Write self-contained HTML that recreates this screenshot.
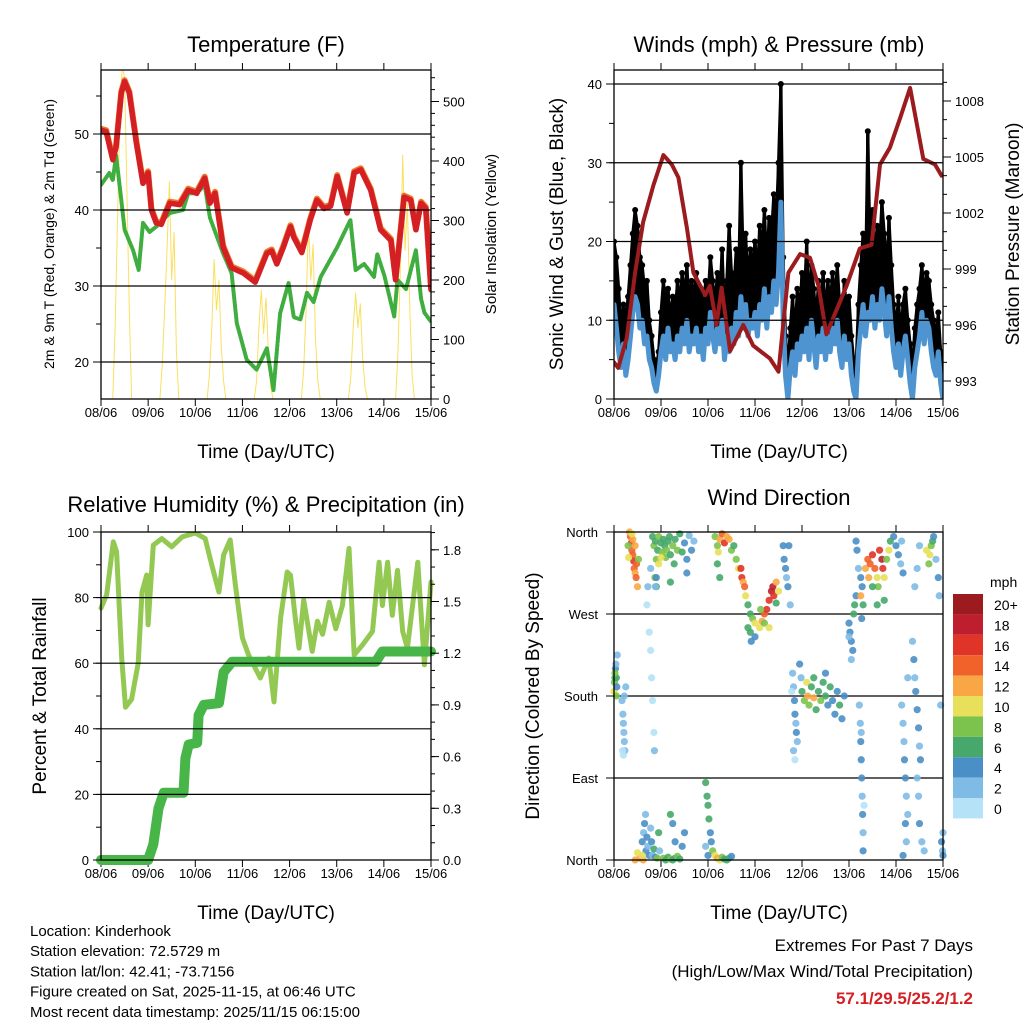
<!DOCTYPE html>
<html><head><meta charset="utf-8"><style>
body{margin:0;background:#fff;}
svg{display:block;font-family:"Liberation Sans",Arial,sans-serif;}
</style></head><body>
<svg id="c" width="1024" height="1024" viewBox="0 0 1024 1024"></svg>
<script>
// ---------- DATA ----------
const dayLabels=["08/06","09/06","10/06","11/06","12/06","13/06","14/06","15/06"];
const tempDays=[0,0.11,0.25,0.32,0.43,0.5,0.6,0.75,0.89,1.0,1.07,1.17,1.28,1.46,1.67,1.85,2.03,2.2,2.31,2.42,2.59,2.77,3.02,3.27,3.52,3.62,3.73,3.87,4.02,4.09,4.26,4.44,4.58,4.73,4.87,5.01,5.22,5.37,5.51,5.72,5.93,6.15,6.25,6.43,6.57,6.68,6.79,6.89,7.0];
const temp2m=[50.5,50.3,46.6,48.3,55.4,56.9,55.4,48.8,43.5,44.9,40,38.3,38.1,40.9,40.7,42.6,42.2,44.2,40.9,42.2,35.1,32.4,31.7,30.5,34.3,34.6,32.9,35.1,37.8,36.4,34.4,38.7,41.3,40.2,40.5,44.4,39.6,44.9,45.3,42.6,37.4,36.0,30.8,41.7,41.3,37.4,40.9,40.2,29.5];
const dewDays=[0,0.18,0.25,0.32,0.43,0.5,0.68,0.8,0.89,1.03,1.17,1.46,1.74,1.85,2.03,2.2,2.31,2.59,2.77,2.88,3.09,3.3,3.52,3.66,3.8,3.98,4.09,4.23,4.37,4.51,4.66,5.01,5.29,5.4,5.58,5.79,5.86,6.01,6.22,6.29,6.47,6.68,6.79,6.86,7.0];
const dewpt=[43.3,44.9,43.9,47.2,41.3,37.4,34.7,32.1,38.3,37.1,37.8,39.6,40,42.2,42.2,43.3,39.0,34.3,31.7,25.1,20.3,19.0,21.8,16.3,26.4,30.4,25.9,25.6,29.1,27.9,31.2,35.1,38.7,32.1,32.9,31.2,34.2,31.4,26.0,30.8,29.6,34.7,28.3,26.5,25.3];
const solarOffsets=[0.25,0.3,0.35,0.4,0.45,0.5,0.55,0.6,0.65];
const solarByDay=[[0,120,300,480,560,540,350,150,0],[0,60,150,250,365,200,280,80,0],[0,40,120,235,150,200,90,30,0],[0,30,120,183,110,170,80,20,0],[0,50,150,296,200,260,100,30,0],[0,40,120,178,120,160,70,20,0],[0,80,220,410,250,330,150,40,0]];
const pressDays=[0,0.09,0.27,0.45,0.62,0.84,1.05,1.23,1.37,1.55,1.69,1.94,2.04,2.18,2.29,2.47,2.75,2.96,3.32,3.5,3.71,3.96,4.17,4.35,4.52,4.95,5.23,5.48,5.66,5.87,6.09,6.3,6.58,6.83,6.97];
const pressure=[994.0,993.7,995.3,998.8,1001.5,1003.5,1005.1,1004.6,1003.9,1001.2,998.8,997.6,998.1,996.0,998.0,994.6,996.0,994.9,994.2,993.5,998.8,999.8,999.6,998.1,995.5,998.1,1000.1,1000.3,1004.6,1005.5,1007.1,1008.7,1004.9,1004.6,1004.0];
const windMean=[12,9,6,4,7,3,5,8,11,13, 12,9,10,7,8,5,4,2,1,3, 6,8,5,9,6,7,5,8,6,9, 7,10,6,8,7,9,6,8,5,9, 7,11,8,6,9,7,10,5,8,6, 9,7,11,8,13,9,12,8,10,9, 11,8,12,10,14,9,13,11,15,12, 16,25,10,3,0,4,6,3,7,5, 8,6,9,5,10,7,4,8,6,9, 5,8,6,9,7,10,6,4,8,5, 7,3,1,0,6,9,12,8,11,10, 13,9,12,10,14,11,8,13,9,6, 4,7,3,6,8,5,2,0,4,6, 8,11,7,10,9,6,4,3,6,2, 0];
const windGust=[20,18,14,9,12,10,13,17,21,24, 22,18,17,14,15,10,8,5,4,6, 11,15,12,14,10,13,11,15,12,16, 13,17,12,15,13,16,12,14,10,15, 13,18,15,12,16,13,19,11,15,22, 16,14,19,15,30,17,21,15,19,17, 20,16,22,19,24,17,23,21,26,22, 30,40,18,8,4,9,13,8,14,11, 16,13,20,12,17,14,10,15,12,16, 11,15,12,16,13,17,12,9,15,11, 13,8,5,4,12,17,21,15,34,19, 24,18,22,19,25,21,16,23,17,12, 9,13,8,12,14,10,7,4,9,12, 14,17,13,16,15,12,10,8,11,6, 4];
const rhDays=[0,0.12,0.26,0.33,0.44,0.52,0.65,0.79,0.87,0.97,1.0,1.11,1.29,1.5,1.72,2.0,2.21,2.35,2.5,2.6,2.74,2.85,3.0,3.13,3.38,3.56,3.67,3.81,3.95,4.02,4.13,4.2,4.3,4.48,4.59,4.7,4.84,4.98,5.12,5.26,5.37,5.55,5.76,5.9,5.97,6.08,6.18,6.29,6.4,6.5,6.72,6.86,7.0];
const rhVals=[76.8,80.9,97,94,61.6,46.6,49,60,81.7,86.9,71.7,96,98,95.5,98.5,99.7,98,89.9,81.7,93,97.6,83.8,67.7,62.5,55.5,61.6,48.2,73.8,87.8,86.8,72.7,64.6,79.3,63.6,72.8,68.8,78.6,70.5,77.6,95,62.5,65.6,69.7,90.8,77.6,90.8,74.6,88.3,69.7,64.6,90.8,59.5,84.8];
const precipDays=[0,1.0,1.11,1.22,1.33,1.75,1.79,1.86,2.04,2.07,2.18,2.5,2.6,2.78,5.83,5.97,7.0];
const precipVals=[0,0,0.09,0.3,0.39,0.39,0.59,0.67,0.68,0.84,0.9,0.91,1.09,1.15,1.15,1.21,1.21];
const dirDays=[0,0.01,0.02,0.03,0.04,0.05,0.06,0.02,0.07,0.05, 0.17,0.19,0.2,0.21,0.22,0.23,0.2,0.25,0.18,0.22,
0.35,0.37,0.38,0.4,0.42,0.43,0.45,0.47,0.4,0.45,0.5,0.33,0.48,0.38,0.52,0.3,0.31,
0.82,0.85,0.88,0.9,0.93,0.95,1.0,1.02,1.05,1.08,1.1,1.12,1.15,1.18,1.2,1.25,1.28,1.3,1.35,1.4,1.45,1.5,1.55,1.6,1.65,1.7,0.87,0.9,1.2,1.55,0.95,1.0,
0.7,0.75,0.78,0.8,0.82,0.85,0.86,0.72,0.78,0.88,0.9,
0.6,0.63,0.65,0.67,0.68,0.7,0.72,0.75,0.78,0.8,0.82,0.85,0.88,0.62,0.55,0.6,0.5,0.45,0.92,0.95,0.97,
1.05,1.1,1.15,1.2,1.25,1.3,1.35,1.4,1.2,1.25,1.3,1.45,1.5,
1.95,1.98,2.0,2.02,2.05,2.07,2.1,2.15,2.2,2.25,2.3,2.35,2.4,2.45,2.5,1.95,2.0,
2.15,2.2,2.22,2.25,2.3,2.35,2.4,2.45,2.5,2.55,2.6,2.65,2.2,2.25,
2.7,2.72,2.75,2.78,2.8,2.85,2.9,2.95,3.0,2.85,2.9,3.0,2.92,
3.1,3.15,3.2,3.25,3.3,3.35,3.38,3.4,3.45,3.5,3.2,3.3,3.12,3.45,
3.6,3.62,3.65,3.67,3.7,3.72,3.75,
3.8,3.82,3.84,3.85,3.87,3.88,3.9,3.82,3.85,3.95,3.98,3.78,
4.0,4.05,4.1,4.12,4.15,4.2,4.25,4.3,4.35,4.4,4.45,4.5,4.55,4.6,4.65,4.7,4.75,4.8,4.85,4.9,4.25,4.5,
5.0,5.02,5.05,5.08,5.1,5.12,5.15,5.05,5.0,
5.15,5.17,5.2,5.25,5.28,5.3,5.27,5.25,
5.35,5.4,5.42,5.45,5.5,5.55,5.6,5.62,5.65,5.7,5.72,5.75,5.8,5.85,5.88,5.5,5.6,5.75,
5.22,5.24,5.25,5.26,5.27,5.28,5.29,5.3,5.3,5.32,5.26,
5.95,6.0,6.05,6.1,6.12,6.15,6.15,6.17,6.18,6.2,6.22,6.25,6.2,6.22,6.15,6.12,6.25,
6.35,6.38,6.4,6.42,6.45,6.48,6.5,6.52,6.45,6.48,6.5,6.55,6.6,6.4,6.45,6.5,
6.65,6.7,6.72,6.75,6.78,6.8,6.85,6.9,6.92,6.95,
6.97,6.99,7.0,7.0];
const dirVals=[185,195,200,210,215,200,190,205,225,180, 175,160,150,140,130,120,115,190,120,180,
355,348,340,335,328,320,315,310,352,345,300,360,325,358,330,345,332,
355,345,350,330,340,355,348,338,352,345,332,340,350,355,335,345,325,352,340,358,338,348,330,356,340,350,310,300,305,315,325,332,
280,250,230,200,175,140,120,300,320,300,310,
20,30,40,50,10,25,15,5,35,20,5,12,3,0,2,5,8,0,2,30,10,
2,0,3,1,0,2,4,1,50,40,20,15,30,
85,70,60,45,30,20,10,5,2,0,3,1,0,2,4,15,5,
355,345,338,352,358,348,355,352,340,345,330,320,325,310,
320,310,305,300,290,280,270,265,260,255,250,245,240,
255,262,270,275,285,295,300,290,305,295,260,255,275,282,
345,330,320,310,300,345,280,
205,190,175,160,150,140,130,120,110,215,200,185,
185,175,195,180,170,190,178,165,185,175,195,180,170,190,175,160,185,170,155,180,200,205,
260,250,240,230,270,280,290,220,245,
350,340,320,310,300,280,265,290,
320,330,310,325,335,320,310,300,340,330,320,310,330,340,350,300,280,285,
170,150,130,110,90,70,50,30,10,60,140,
355,345,335,325,350,315,150,130,110,90,70,50,40,20,5,170,200,
240,220,200,185,165,145,125,110,90,70,40,20,10,300,320,345,
340,325,335,345,350,355,330,310,290,170,
20,10,5,30];
const dirSpeed=[10,9,6,4,3,6,4,8,2,8, 3,3,2,2,2,2,1,2,1,3,
14,16,14,15,16,15,12,14,13,12,12,12,14,10,8,8,10,
6,8,6,8,6,8,6,8,7,6,8,9,7,6,7,8,6,7,8,6,7,4,4,3,4,2,8,6,6,4,10,10,
0,1,1,1,0,1,3,3,3,3,4,
4,3,4,3,4,4,3,4,3,4,2,6,5,12,13,10,10,12,8,6,3,
8,6,7,8,6,7,8,6,6,4,4,4,4,
7,6,6,6,4,4,8,10,12,10,8,7,6,6,4,3,4,
8,9,10,12,14,16,13,12,8,6,8,10,7,6,
16,17,12,14,10,7,6,8,10,7,6,4,4,
10,12,14,16,17,18,19,16,12,10,8,10,8,6,
4,4,4,3,4,4,3,
2,3,4,4,3,4,3,2,1,4,3,1,
6,8,10,12,8,6,12,7,6,8,7,6,5,6,4,5,4,6,5,4,6,5,
4,4,4,4,6,6,5,3,2,
4,4,3,5,4,6,4,12,
12,14,12,15,16,14,10,8,16,18,17,10,8,10,6,7,6,6,
2,2,4,4,4,3,4,2,4,1,3,
4,4,4,3,3,4,2,3,4,4,3,2,4,2,4,2,3,
2,4,3,4,4,4,3,4,3,3,4,2,2,2,3,2,
10,8,10,8,6,4,2,4,2,2,
4,3,4,2];
const speedLabels=["0","2","4","6","8","10","12","14","16","18","20+"];
const speedColors=["#b6e2f7","#80bbe6","#4a8fc6","#47a86b","#7cc34d","#e8e05a","#f9a744","#f0622a","#e03428","#be1e2d","#9b1b1e"];

// ---------- HELPERS ----------
const S=document.getElementById('c');const NS='http://www.w3.org/2000/svg';
function mk(t,a,p){const e=document.createElementNS(NS,t);for(const k in a)e.setAttribute(k,a[k]);(p||S).appendChild(e);return e;}
function txt(x,y,s,size,anchor,p,extra){const e=mk('text',Object.assign({x:x,y:y,'font-size':size,'text-anchor':anchor||'middle',fill:'#000'},extra||{}),p);e.textContent=s;return e;}
function lin(d0,d1,r0,r1){return v=>r0+(v-d0)*(r1-r0)/(d1-d0);}
function poly(xs,ys,fx,fy,style,p,name){const pts=xs.map((d,i)=>fx(d).toFixed(1)+','+fy(ys[i]).toFixed(1)).join(' ');const e=mk('polyline',Object.assign({points:pts,fill:'none','stroke-linejoin':'round','stroke-linecap':'round'},style),p);

return e;}
function frame(L,T,R,B,name){const g=mk('g',{});


const fx=lin(0,7,L,R);
for(let i=0;i<8;i++){const x=fx(i);mk('line',{x1:x,y1:B,x2:x,y2:B+7,stroke:'#000','stroke-width':1},g);mk('line',{x1:x,y1:T,x2:x,y2:T-7,stroke:'#000','stroke-width':1},g);
const t=txt(x,B+18,dayLabels[i],13,'middle',g);}
return {g,fx};}
function yTicks(g,x,vals,fy,dir,len,labels,fmt){vals.forEach(v=>{const y=fy(v);mk('line',{x1:x,y1:y,x2:x+dir*len,y2:y,stroke:'#000','stroke-width':1},g);});
if(labels)labels.forEach(v=>{const y=fy(v);const t=txt(x+dir*12,y+5,fmt(v),13,dir<0?'end':'start',g);});}
function grid(g,L,R,ys){ys.forEach(y=>mk('line',{x1:L,y1:y,x2:R,y2:y,stroke:'#000','stroke-width':1.2},g));}
function box(g,L,T,R,B){mk('rect',{x:L,y:T,width:R-L,height:B-T,fill:'none',stroke:'#000','stroke-width':1.3},g);}
function range(a,b,s){const r=[];for(let v=a;v<=b+1e-9;v+=s)r.push(+v.toFixed(3));return r;}

// ---------- PANEL 1: TEMPERATURE ----------
(function(){const L=101,T=70,R=431,B=399;const {g,fx}=frame(L,T,R,B,'temperature-panel');
const fy=lin(30,50,286,134);const fs=lin(0,500,399,101.5);
const clip=mk('clipPath',{id:'c1'},g);mk('rect',{x:L,y:T,width:R-L,height:B-T},clip);
const pg=mk('g',{'clip-path':'url(#c1)'},g);
solarByDay.forEach((arr,d)=>{poly(solarOffsets.map(o=>d+o),arr,fx,fs,{stroke:'#f7d83a','stroke-width':1,opacity:0.8},pg,'solar-insolation-line');});
grid(g,L,R,[20,30,40,50].map(fy));
poly(dewDays,dewpt,fx,fy,{stroke:'#3fae3f','stroke-width':4,'stroke-dasharray':'2.5 1.5'},pg,'dewpoint-2m-line');
const o=poly(tempDays,temp2m,fx,fy,{stroke:'#f07a2a','stroke-width':6},pg,'temperature-9m-line');o.setAttribute('transform','translate(0,-1.5)');
poly(tempDays,temp2m,fx,fy,{stroke:'#d42025','stroke-width':5.5},pg,'temperature-2m-line');
box(g,L,T,R,B);
yTicks(g,L,range(20,55,5),fy,-1,5);yTicks(g,L,[20,30,40,50],fy,-1,8,[20,30,40,50],v=>v);
yTicks(g,R,range(0,540,20),fs,1,4);yTicks(g,R,range(0,500,100),fs,1,8,range(0,500,100),v=>v);
let t=txt(266,52,'Temperature (F)',22,'middle',g);
t=txt(266,458,'Time (Day/UTC)',19,'middle',g);
t=txt(0,0,'2m & 9m T (Red, Orange) & 2m Td (Green)',14,'middle',g,{transform:'translate(54,234) rotate(-90)'});
t=txt(0,0,'Solar Insolation (Yellow)',15,'middle',g,{transform:'translate(496,234) rotate(-90)'});
})();

// ---------- PANEL 2: WINDS ----------
(function(){const L=614,T=70,R=943,B=399;const {g,fx}=frame(L,T,R,B,'winds-panel');
const fy=lin(0,40,399,84);const fp=lin(993,1008,381,101);
const clip=mk('clipPath',{id:'c2'},g);mk('rect',{x:L,y:T,width:R-L,height:B-T},clip);
const pg=mk('g',{'clip-path':'url(#c2)'},g);
grid(g,L,R,[10,20,30,40].map(fy));
const wd=windMean.map((_,i)=>i*0.05);
windGust.forEach((gv,i)=>{const x=fx(wd[i]);mk('line',{x1:x,y1:fy(windMean[i]),x2:x,y2:fy(gv),stroke:'#000','stroke-width':3.5},pg);
const c=mk('circle',{cx:x,cy:fy(gv),r:3,fill:'#000'},pg);

});
poly(wd,windGust,fx,fy,{stroke:'#000','stroke-width':3},pg,'wind-gust-band');
poly(wd,windMean,fx,fy,{stroke:'#4d94d0','stroke-width':5},pg,'sonic-wind-line');
poly(pressDays,pressure,fx,fp,{stroke:'#9b1b1e','stroke-width':4},pg,'station-pressure-line');
box(g,L,T,R,B);
yTicks(g,L,range(0,40,5),fy,-1,5);yTicks(g,L,range(0,40,10),fy,-1,8,range(0,40,10),v=>v);
yTicks(g,R,range(993,1009,1),fp,1,4);yTicks(g,R,range(993,1008,3),fp,1,8,range(993,1008,3),v=>v);
let t=txt(779,52,'Winds (mph) & Pressure (mb)',22,'middle',g);
t=txt(779,458,'Time (Day/UTC)',19,'middle',g);
t=txt(0,0,'Sonic Wind & Gust (Blue, Black)',19,'middle',g,{transform:'translate(563,234) rotate(-90)'});
t=txt(0,0,'Station Pressure (Maroon)',19,'middle',g,{transform:'translate(1019,234) rotate(-90)'});
})();

// ---------- PANEL 3: RH & PRECIP ----------
(function(){const L=101,T=532,R=431,B=860;const {g,fx}=frame(L,T,R,B,'humidity-panel');
const fy=lin(0,100,860,532);const fq=lin(0,0.3,860,808.3);
const clip=mk('clipPath',{id:'c3'},g);mk('rect',{x:L-6,y:T,width:R-L+12,height:B-T+6},clip);
const pg=mk('g',{'clip-path':'url(#c3)'},g);
grid(g,L,R,[20,40,60,80].map(fy));
poly(rhDays,rhVals,fx,fy,{stroke:'#93c953','stroke-width':5},pg,'relative-humidity-line');
poly(precipDays,precipVals,fx,fq,{stroke:'#48b548','stroke-width':10},pg,'precipitation-line');
box(g,L,T,R,B);
yTicks(g,L,range(0,100,10),fy,-1,5);yTicks(g,L,range(0,100,20),fy,-1,8,range(0,100,20),v=>v);
yTicks(g,R,range(0,1.9,0.1),fq,1,4);yTicks(g,R,range(0,1.8,0.3),fq,1,8,range(0,1.8,0.3),v=>v.toFixed(1));
let t=txt(266,512,'Relative Humidity (%) & Precipitation (in)',22,'middle',g);
t=txt(266,919,'Time (Day/UTC)',19,'middle',g);
t=txt(0,0,'Percent & Total Rainfall',19,'middle',g,{transform:'translate(46,696) rotate(-90)'});
})();

// ---------- PANEL 4: WIND DIRECTION ----------
(function(){const L=614,T=532,R=943,B=860;const {g,fx}=frame(L,T,R,B,'wind-direction-panel');
const fy=lin(0,360,860,532);
grid(g,L,R,[90,180,270].map(fy));
dirDays.forEach((d,i)=>{const bin=Math.min(10,Math.floor(dirSpeed[i]/2));
const c=mk('circle',{cx:fx(d),cy:fy(dirVals[i]),r:3.6,fill:speedColors[bin],opacity:0.9},g);

});
box(g,L,T,R,B);
const dl=["North","East","South","West","North"];
[0,90,180,270,360].forEach((v,i)=>{const y=fy(v);mk('line',{x1:L,y1:y,x2:L-8,y2:y,stroke:'#000'},g);
const t=txt(L-16,y+5,dl[i],13,'end',g);});
let t=txt(779,505,'Wind Direction',22,'middle',g);
t=txt(779,919,'Time (Day/UTC)',19,'middle',g);
t=txt(0,0,'Direction (Colored By Speed)',19,'middle',g,{transform:'translate(539,696) rotate(-90)'});
const cb=mk('g',{},g);
t=txt(990,587,'mph',14,'start',cb);
speedColors.slice().reverse().forEach((c,i)=>{const y=594+i*20.4;mk('rect',{x:953,y:y,width:30,height:20.4,fill:c},cb);
const lt=txt(994,y+16,speedLabels[10-i],14,'start',cb);});
})();

// ---------- FOOTER ----------
const info=["Location: Kinderhook","Station elevation: 72.5729 m","Station lat/lon: 42.41; -73.7156","Figure created on Sat, 2025-11-15, at 06:46 UTC","Most recent data timestamp: 2025/11/15 06:15:00"];
info.forEach((s,i)=>{const t=txt(30,936+i*20.2,s,15,'start');});
let t=txt(973,951,'Extremes For Past 7 Days',17,'end');
t=txt(973,977,'(High/Low/Max Wind/Total Precipitation)',17,'end');
t=txt(973,1004,'57.1/29.5/25.2/1.2',17,'end',S,{fill:'#d42025','font-weight':'bold'});
</script>
</body></html>
